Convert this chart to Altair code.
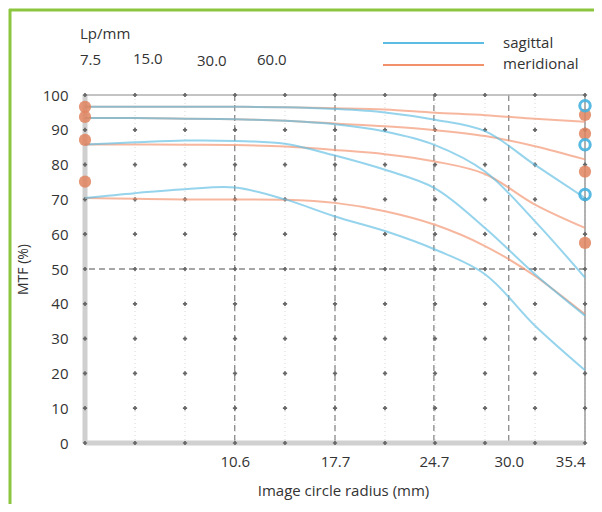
import altair as alt
import pandas as pd

# ---------------- data ----------------
radius = [0, 3.54, 7.08, 10.62, 14.16, 17.7, 21.24, 24.78, 28.32, 31.86, 35.4]

sag_7_5 = [96.6, 96.6, 96.6, 96.6, 96.5, 96.0, 95.0, 92.9, 89.6, 79.9, 70.4]
mer_7_5 = [96.6, 96.6, 96.6, 96.6, 96.5, 96.2, 95.8, 94.9, 94.2, 93.2, 92.3]
sag_15 = [93.4, 93.4, 93.2, 93.0, 92.6, 91.6, 89.5, 85.6, 78.0, 63.7, 47.5]
mer_15 = [93.4, 93.4, 93.2, 93.0, 92.6, 91.8, 91.0, 89.9, 88.2, 85.3, 81.5]
sag_30 = [85.8, 86.4, 86.9, 86.8, 86.0, 82.6, 78.5, 73.2, 61.8, 48.5, 36.6]
mer_30 = [85.8, 85.8, 85.7, 85.6, 85.2, 84.2, 83.0, 80.9, 77.3, 68.5, 61.8]
sag_60 = [70.4, 71.8, 72.9, 73.4, 70.0, 65.1, 60.9, 55.6, 48.5, 33.7, 20.9]
mer_60 = [70.4, 70.2, 70.0, 70.0, 69.9, 69.0, 66.6, 62.7, 56.6, 48.0, 37.0]

frequencies = ["7.5", "15.0", "30.0", "60.0"]
x_ticks = [10.6, 17.7, 24.7, 30.0, 35.4]
y_ticks = [0, 10, 20, 30, 40, 50, 60, 70, 80, 90, 100]
dashed_x = [10.6, 17.7, 24.7, 30.0]

left_markers_mer = [96.6, 93.7, 87.1, 75.1]
right_markers_mer = [94.3, 88.9, 78.0, 57.5]
right_markers_sag = [96.9, 85.7, 71.4]

BLUE = "#5cbde2"
ORANGE = "#f2906c"
TXT = "#333333"
FONT = "Open Sans"
GREEN = "#8cc63f"

W, H = 500, 348
PAD = {"left": 77, "top": 87, "right": 9, "bottom": 61}

# ---------------- tables ----------------
rows = []
series = [("7.5", "meridional", mer_7_5), ("15.0", "meridional", mer_15),
          ("30.0", "meridional", mer_30), ("60.0", "meridional", mer_60),
          ("7.5", "sagittal", sag_7_5), ("15.0", "sagittal", sag_15),
          ("30.0", "sagittal", sag_30), ("60.0", "sagittal", sag_60)]
for f, t, vals in series:
    for r, v in zip(radius, vals):
        rows.append({"r": r, "mtf": v, "freq": f, "type": t, "key": t + f})
curves = pd.DataFrame(rows)

grid = pd.DataFrame([{"r": r, "mtf": y} for r in radius for y in y_ticks])
cols = pd.DataFrame({"r": radius})
dashv = pd.DataFrame({"r": dashed_x})

markers = pd.DataFrame(
    [{"r": 0.0, "mtf": v} for v in left_markers_mer]
    + [{"r": 35.4, "mtf": v} for v in right_markers_mer]
)
markers_sag = pd.DataFrame([{"r": 35.4, "mtf": v} for v in right_markers_sag])

xs = alt.Scale(domain=[0, 35.4], nice=False, zero=False)
ys = alt.Scale(domain=[0, 100], nice=False)

X = alt.X("r:Q", scale=xs,
          axis=alt.Axis(values=x_ticks, format=".1f", ticks=False, domain=False, grid=False,
                        labelFont=FONT, labelFontSize=15, labelColor=TXT, labelPadding=11,
                        titleFont=FONT, titleFontSize=15,
                        titleFontWeight="normal", titleColor=TXT, titlePadding=14,
                        titleX=258, labelOverlap=False),
          title="Image circle radius (mm)")
Y = alt.Y("mtf:Q", scale=ys,
          axis=alt.Axis(values=y_ticks, ticks=False, domain=False, grid=False,
                        labelFont=FONT, labelFontSize=15, labelColor=TXT, labelPadding=17,
                        titleFont=FONT, titleFontSize=14,
                        titleFontWeight="normal", titleColor=TXT, titlePadding=12),
          title="MTF (%)")

# faint dotted verticals at every grid column
faint = alt.Chart(cols).mark_rule(color="#d8d8d8", strokeDash=[1, 3], strokeWidth=1).encode(x=X)
# dashed verticals
dv = alt.Chart(dashv).mark_rule(color="#8a8a8a", strokeDash=[6, 4], strokeWidth=1.3).encode(x=X)
# frame lines
left_line = alt.Chart(pd.DataFrame({"r": [0.0]})).mark_rule(color="#cfcfcf", strokeWidth=5).encode(x=X)
right_line = alt.Chart(pd.DataFrame({"r": [35.4]})).mark_rule(color="#9a9a9a", strokeWidth=1.5).encode(x=X)
top_line = alt.Chart(pd.DataFrame({"mtf": [100]})).mark_rule(color="#b0b0b0", strokeWidth=1.5).encode(y=Y)
mid_line = alt.Chart(pd.DataFrame({"mtf": [50]})).mark_rule(color="#8a8a8a", strokeDash=[6, 4], strokeWidth=1.3).encode(y=Y)
bottom_line = alt.Chart(pd.DataFrame({"mtf": [0]})).mark_rule(color="#d0d0d0", strokeWidth=5).encode(y=Y)

dots = alt.Chart(grid).mark_point(shape="cross", filled=True, color="#666666", size=18, opacity=1).encode(
    x=X, y=Y)

color = alt.Color("type:N", scale=alt.Scale(domain=["sagittal", "meridional"], range=[BLUE, ORANGE]),
                  legend=None)

lines = alt.Chart(curves).mark_line(interpolate="catmull-rom", strokeWidth=2, opacity=0.65).encode(
    x=X, y=Y, color=color, detail="key:N", order=alt.Order("r:Q"))

mk = alt.Chart(markers).mark_circle(size=150, color="#e0845e", opacity=0.85).encode(x=X, y=Y)
mk_s = alt.Chart(markers_sag).mark_point(size=110, color="#46b3e0", strokeWidth=3, filled=False,
                                         opacity=0.9).encode(x=X, y=Y)


def txt(label, px, py, align="left"):
    return alt.Chart(pd.DataFrame({"t": [label]})).mark_text(
        font=FONT, fontSize=15, color=TXT, align=align, baseline="middle").encode(
        text="t:N", x=alt.value(px), y=alt.value(py))


header = [txt("Lp/mm", -5, -61)]
freq_x = [-5, 48, 112, 172]
freq_y = [-35, -36, -34, -35]
for f, px, py in zip(frequencies, freq_x, freq_y):
    header.append(txt(f, px, py))
header.append(txt("sagittal", 418, -52))
header.append(txt("meridional", 418, -31))

leg_s = alt.Chart(pd.DataFrame({"t": ["sagittal"]})).mark_rule(color=BLUE, strokeWidth=2).encode(
    x=alt.value(298), x2=alt.value(399), y=alt.value(-52))
leg_m = alt.Chart(pd.DataFrame({"t": ["meridional"]})).mark_rule(color=ORANGE, strokeWidth=2).encode(
    x=alt.value(298), x2=alt.value(399), y=alt.value(-30))

# green frame (left and top)
frame_l = alt.Chart(pd.DataFrame({"t": [0]})).mark_rule(color=GREEN, strokeWidth=3).encode(
    x=alt.value(-75), y=alt.value(-86), y2=alt.value(H + PAD["bottom"]))
frame_t = alt.Chart(pd.DataFrame({"t": [0]})).mark_rule(color=GREEN, strokeWidth=3).encode(
    x=alt.value(-76), x2=alt.value(W + PAD["right"]), y=alt.value(-85))

chart = alt.layer(
    faint, dv, left_line, right_line, top_line, mid_line, bottom_line, dots,
    lines, mk, mk_s, leg_s, leg_m, frame_l, frame_t, *header
).properties(
    width=W, height=H,
    autosize=alt.AutoSizeParams(type="none"),
    padding=PAD,
    background="white",
).configure_view(stroke=None)

chart.save("out.html", embed_options={"renderer": "svg", "actions": False})
